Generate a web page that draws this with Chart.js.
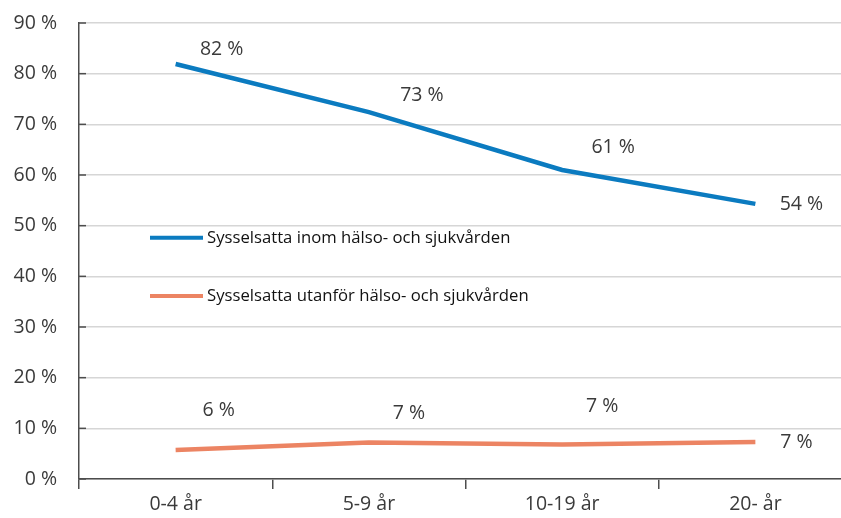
<!DOCTYPE html>
<html>
<head>
<meta charset="utf-8">
<script src="https://cdn.jsdelivr.net/npm/chart.js@4"></script>
<style>
  html, body { margin: 0; padding: 0; background: #fff; overflow: hidden; }
  #wrap { width: 852px; height: 518px; }
</style>
</head>
<body>
<div id="wrap"><canvas id="chart" width="852" height="518"></canvas></div>
<script>
// Categories (years) and the two series, in percent
const categories = ["0-4 år", "5-9 år", "10-19 år", "20- år"];
const inomValues = [81.9, 72.4, 61.0, 54.3];
const utanforValues = [5.7, 7.2, 6.8, 7.3];
const inomLabels = ["82 %", "73 %", "61 %", "54 %"];
const utanforLabels = ["6 %", "7 %", "7 %", "7 %"];
const seriesNames = ["Sysselsatta inom hälso- och sjukvården", "Sysselsatta utanför hälso- och sjukvården"];

// Where each value label sits relative to its point (pixels)
const inomLabelOffsets = [[46, -15], [53, -17], [51, -22], [46, 1]];
const utanforLabelOffsets = [[43, -40], [40, -29], [40, -38], [41, 0]];

const BLUE = "#0b7bc0";
const ORANGE = "#ec8463";
const AXIS = "#4d4d4d";
const TEXT = "#3a3a3a";
const FONT = "'Open Sans', sans-serif";

// Draws the value labels next to the points
const valueLabels = {
  id: "valueLabels",
  afterDatasetsDraw(chart) {
    const ctx = chart.ctx;
    ctx.save();
    ctx.font = "19.5px " + FONT;
    ctx.fillStyle = TEXT;
    ctx.textAlign = "center";
    ctx.textBaseline = "middle";
    const sets = [[inomLabels, inomLabelOffsets], [utanforLabels, utanforLabelOffsets]];
    sets.forEach(([labels, offsets], i) => {
      chart.getDatasetMeta(i).data.forEach((pt, j) => {
        ctx.fillText(labels[j], pt.x + offsets[j][0], pt.y + offsets[j][1]);
      });
    });
    ctx.restore();
  }
};

// Short tick marks on the inside of the y axis
const innerYTicks = {
  id: "innerYTicks",
  afterDraw(chart) {
    const ctx = chart.ctx;
    const y = chart.scales.y;
    const left = chart.chartArea.left;
    ctx.save();
    ctx.strokeStyle = AXIS;
    ctx.lineWidth = 1.5;
    y.ticks.forEach(t => {
      const py = y.getPixelForValue(t.value);
      ctx.beginPath();
      ctx.moveTo(left, py);
      ctx.lineTo(left + 7, py);
      ctx.stroke();
    });
    ctx.restore();
  }
};

// Legend drawn inside the plot area
const insideLegend = {
  id: "insideLegend",
  afterDatasetsDraw(chart) {
    const ctx = chart.ctx;
    const y = chart.scales.y;
    ctx.save();
    ctx.font = "16.7px " + FONT;
    ctx.fillStyle = "#111";
    ctx.textBaseline = "middle";
    chart.data.datasets.forEach((ds, i) => {
      const yy = y.getPixelForValue(47.6 - i * 11.5);
      ctx.strokeStyle = ds.borderColor;
      ctx.lineWidth = 4;
      ctx.beginPath();
      ctx.moveTo(150, yy);
      ctx.lineTo(203, yy);
      ctx.stroke();
      ctx.fillText(ds.label, 207, yy);
    });
    ctx.restore();
  }
};

const chart = new Chart(document.getElementById("chart"), {
  type: "line",
  data: {
    labels: categories,
    datasets: [
      { label: seriesNames[0], data: inomValues, borderColor: BLUE, borderWidth: 4.5, pointRadius: 0, tension: 0 },
      { label: seriesNames[1], data: utanforValues, borderColor: ORANGE, borderWidth: 4.5, pointRadius: 0, tension: 0 }
    ]
  },
  options: {
    responsive: false,
    animation: false,
    layout: { padding: { top: 23, right: 0, left: 0, bottom: 0 } },
    plugins: { legend: { display: false }, tooltip: { enabled: false } },
    scales: {
      x: {
        offset: true,
        grid: { offset: true, drawOnChartArea: false, drawTicks: true, tickLength: 10, color: AXIS, lineWidth: 1.5 },
        border: { color: AXIS, width: 1.5 },
        ticks: { font: { family: FONT, size: 19.5 }, color: TEXT, padding: 4 },
        afterFit(scale) { scale.height = 39; scale.paddingLeft = 0; scale.paddingRight = 0; }
      },
      y: {
        min: 0,
        max: 90,
        ticks: { stepSize: 10, font: { family: FONT, size: 19.5 }, color: TEXT, padding: 22, callback: v => v + " %" },
        grid: { color: "#d6d6d6", lineWidth: 1.5, drawTicks: false },
        border: { color: AXIS, width: 1.5 },
        afterFit(scale) { scale.width = 79; scale.paddingTop = 0; scale.paddingBottom = 0; }
      }
    }
  },
  plugins: [valueLabels, innerYTicks, insideLegend]
});
</script>
</body>
</html>
